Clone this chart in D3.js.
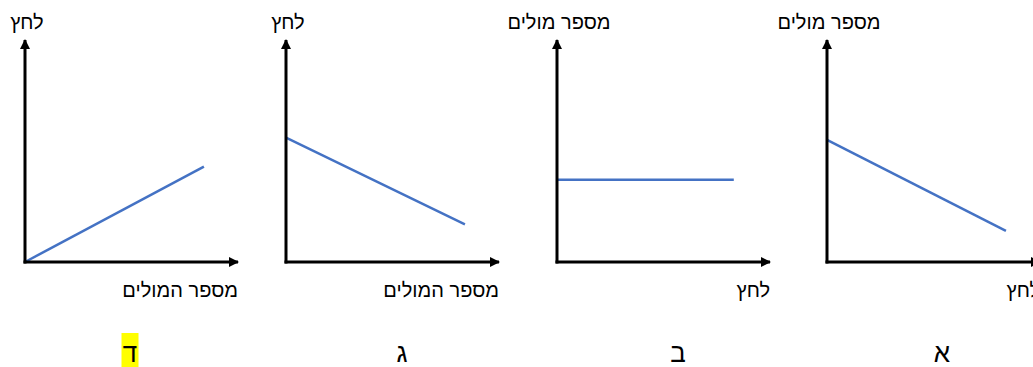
<!DOCTYPE html>
<html lang="he">
<head>
  <meta charset="UTF-8">
  <title>לחץ ומספר מולים</title>
  <script src="https://d3js.org/d3.v7.min.js"></script>
  <style>
    body { margin: 0; background: #fff; }
    text { font-family: "Liberation Sans", "DejaVu Sans", sans-serif; fill: #000; }
  </style>
</head>
<body>
  <svg width="1033" height="367"></svg>
  <script>
  // panels from left to right as they appear in the picture
  var letters = ["ד", "ג", "ב", "א"];
  var yLabels = ["לחץ", "לחץ", "מספר מולים", "מספר מולים"];
  var xLabels = ["מספר המולים", "מספר המולים", "לחץ", "לחץ"];
  // each line: [start, end] as [x, y] in 0-100 units
  var lines = [
    [[0, 0], [84, 43]],
    [[0, 56], [84, 17]],
    [[0, 37], [83, 37]],
    [[0, 55], [84, 14]]
  ];
  var highlighted = "ד";

  var svg = d3.select("svg");
  var origins = [25, 286, 557, 827],
      letterOffset = [105, 116, 121, 115],
      axisLen = 213,
      plotTop = 40,
      plotBase = 262;

  var defs = svg.append("defs");
  defs.append("marker")
      .attr("id", "arrow")
      .attr("viewBox", "0 0 10 10")
      .attr("refX", 9)
      .attr("refY", 5)
      .attr("markerWidth", 3.6)
      .attr("markerHeight", 3.4)
      .attr("markerUnits", "strokeWidth")
      .attr("orient", "auto")
    .append("path")
      .attr("d", "M0,0L10,5L0,10Z")
      .attr("fill", "#000");

  letters.forEach(function(letter, i) {
    var x0 = origins[i];
    var x = d3.scaleLinear().domain([0, 100]).range([x0, x0 + axisLen]);
    var y = d3.scaleLinear().domain([0, 100]).range([plotBase, plotTop]);
    var g = svg.append("g");

    var line = d3.line()
        .x(function(d) { return x(d[0]); })
        .y(function(d) { return y(d[1]); });

    g.append("path")
        .datum(lines[i])
        .attr("fill", "none")
        .attr("stroke", "#4472c4")
        .attr("stroke-width", 2.5)
        .attr("d", line);

    // axes with arrows
    g.append("line")
        .attr("x1", x(0)).attr("y1", y(0) + 1.5)
        .attr("x2", x(0)).attr("y2", y(100))
        .attr("stroke", "#000").attr("stroke-width", 3)
        .attr("marker-end", "url(#arrow)");
    g.append("line")
        .attr("x1", x(0) - 1.5).attr("y1", y(0))
        .attr("x2", x(100)).attr("y2", y(0))
        .attr("stroke", "#000").attr("stroke-width", 3)
        .attr("marker-end", "url(#arrow)");

    g.append("text")
        .attr("x", x(0) + 2)
        .attr("y", 29)
        .attr("text-anchor", "middle")
        .style("font-size", "20px")
        .text(yLabels[i]);

    g.append("text")
        .attr("x", x(100))
        .attr("y", 297)
        .attr("text-anchor", "end")
        .style("font-size", "20px")
        .text(xLabels[i]);

    var lx = x0 + letterOffset[i];
    if (letter === highlighted) {
      g.append("rect")
          .attr("x", lx - 8.5).attr("y", 333)
          .attr("width", 17).attr("height", 34)
          .attr("fill", "#ffff00");
    }
    g.append("text")
        .attr("x", lx)
        .attr("y", 362)
        .attr("text-anchor", "middle")
        .style("font-size", "26px")
        .text(letter);
  });
  </script>
</body>
</html>
